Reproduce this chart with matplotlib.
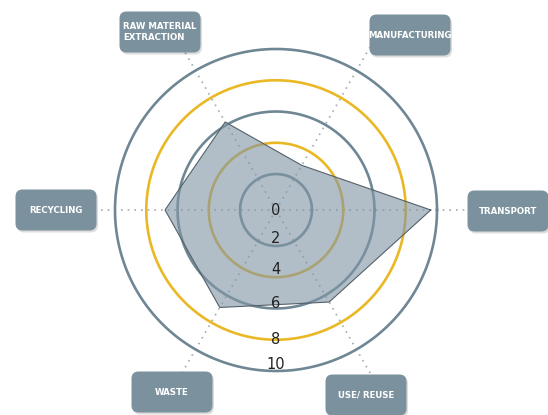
import numpy as np
import matplotlib
matplotlib.use("Agg")
import matplotlib.pyplot as plt
from matplotlib.patches import FancyBboxPatch
from matplotlib.transforms import IdentityTransform

# lifecycle stages, counter-clockwise from the right
stages = ["TRANSPORT", "MANUFACTURING", "RAW MATERIAL\nEXTRACTION",
          "RECYCLING", "WASTE", "USE/ REUSE"]
scores = [9.6, 3.0, 6.2, 6.8, 6.9, 6.5]
ring_values = [2, 4, 6, 8, 10]
ring_labels = ["0", "2", "4", "6", "8", "10"]

# label box centres in pixels (from top-left)
box_centres = [(508, 211), (410, 35), (160, 32), (56, 210), (172, 392), (366, 395)]

GRAY = "#6f8794"
YELLOW = "#e9b824"
BOX = "#7b929e"
W, H = 548, 415

fig = plt.figure(figsize=(W / 100, H / 100), dpi=100)
cx, cy, R = 276, H - 210, 161
ax = fig.add_axes([(cx - R) / W, (cy - R) / H, 2 * R / W, 2 * R / H], projection="polar")
ax.set_ylim(-0.3, 10)
ax.set_axis_off()

angles = np.deg2rad(np.arange(len(stages)) * 60)

# dotted spokes running out to the label boxes
for a in angles:
    ax.plot([a, a], [-0.3, 12.3], color="#a3abb0", lw=1.2, ls=(0, (1, 3)),
            clip_on=False, zorder=1)

# concentric rings
t = np.linspace(0, 2 * np.pi, 400)
for i, v in enumerate(ring_values):
    ax.plot(t, np.full_like(t, v), color=GRAY if i % 2 == 0 else YELLOW,
            lw=1.9, clip_on=False, zorder=2)

# score polygon
ang_c = np.append(angles, angles[0])
sc_c = np.append(scores, scores[0])
ax.fill(ang_c, sc_c, color="#8196a6", alpha=0.62, zorder=3, lw=0)
ax.plot(ang_c, sc_c, color="#55616a", lw=0.8, zorder=4)

# ring value labels down the bottom spoke
label_r = [-0.3, 1.5, 3.5, 5.7, 8.0, 9.6]
for txt, r in zip(ring_labels, label_r):
    ax.text(np.deg2rad(270), r, txt, ha="center", va="center", fontsize=10.5,
            family="Liberation Sans Narrow", color="#222222", zorder=5)

# rounded label boxes with a soft drop shadow
bw, bh = 81, 41
for (x, y), name in zip(box_centres, stages):
    px, py = x, H - y
    shadow = FancyBboxPatch((px - bw / 2 + 1.5, py - bh / 2 - 2), bw, bh,
                            boxstyle="round,pad=0,rounding_size=7",
                            transform=IdentityTransform(), fc="#00000022", ec="none")
    box = FancyBboxPatch((px - bw / 2, py - bh / 2), bw, bh,
                         boxstyle="round,pad=0,rounding_size=7",
                         transform=IdentityTransform(), fc=BOX, ec="none")
    fig.patches.extend([shadow, box])
    fig.text(px / W, py / H, name, ha="center", va="center", color="white",
             fontsize=6.2, fontweight="bold", family="Liberation Sans Narrow",
             multialignment="left", linespacing=1.3)

fig.savefig("out.png", dpi=100)
